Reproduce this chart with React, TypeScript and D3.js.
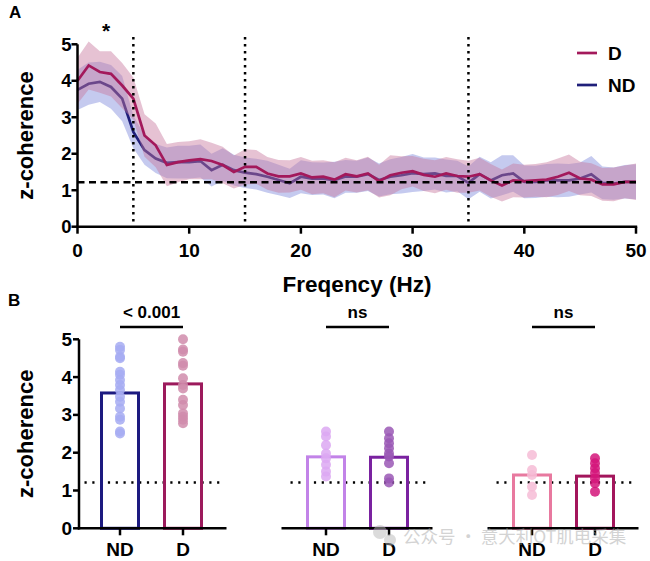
import React from "react";
import * as d3 from "d3";

// ---------- Panel A data ----------
const freqs: number[] = d3.range(0, 51);
const dMean: number[] = [
  4.0, 4.42, 4.24, 4.19, 3.87, 3.51, 2.5, 2.23, 1.69, 1.77,
  1.82, 1.85, 1.8, 1.69, 1.5, 1.64, 1.64, 1.46, 1.38, 1.38,
  1.46, 1.35, 1.37, 1.29, 1.44, 1.38, 1.46, 1.25, 1.41, 1.48,
  1.52, 1.42, 1.37, 1.46, 1.39, 1.37, 1.44, 1.27, 1.13, 1.27,
  1.25, 1.27, 1.29, 1.37, 1.48, 1.32, 1.29, 1.16, 1.16, 1.23, 1.23,
];
const dSpread: number[] = [
  0.63, 0.66, 0.57, 0.62, 0.62, 0.58, 0.58, 0.6, 0.58, 0.55,
  0.52, 0.55, 0.5, 0.5, 0.45, 0.48, 0.46, 0.45, 0.45, 0.44,
  0.45, 0.46, 0.45, 0.48, 0.45, 0.44, 0.46, 0.45, 0.55, 0.45,
  0.42, 0.44, 0.45, 0.45, 0.46, 0.44, 0.45, 0.45, 0.44, 0.46,
  0.45, 0.45, 0.48, 0.5, 0.5, 0.46, 0.45, 0.45, 0.46, 0.45, 0.5,
];
const ndMean: number[] = [
  3.75, 3.92, 3.97, 3.83, 3.51, 2.6, 2.1, 1.87, 1.75, 1.77,
  1.77, 1.8, 1.55, 1.7, 1.55, 1.48, 1.44, 1.37, 1.28, 1.19,
  1.37, 1.32, 1.32, 1.28, 1.38, 1.37, 1.44, 1.28, 1.37, 1.41,
  1.47, 1.44, 1.46, 1.39, 1.39, 1.2, 1.44, 1.27, 1.41, 1.46,
  1.23, 1.23, 1.27, 1.27, 1.27, 1.32, 1.44, 1.2, 1.18, 1.23, 1.23,
];
const ndSpread: number[] = [
  0.55, 0.58, 0.55, 0.6, 0.62, 0.45, 0.4, 0.4, 0.42, 0.45,
  0.45, 0.45, 0.45, 0.45, 0.42, 0.42, 0.42, 0.44, 0.42, 0.4,
  0.45, 0.45, 0.44, 0.5, 0.45, 0.44, 0.46, 0.45, 0.48, 0.5,
  0.52, 0.46, 0.44, 0.45, 0.42, 0.45, 0.48, 0.5, 0.55, 0.5,
  0.45, 0.44, 0.45, 0.46, 0.45, 0.44, 0.5, 0.45, 0.44, 0.46, 0.48,
];
const baselineA = 1.22;
const bandMarkers: number[] = [5, 15, 35];
const xTicksA: number[] = [0, 10, 20, 30, 40, 50];
const yTicks: number[] = [0, 1, 2, 3, 4, 5];

// ---------- Panel B data ----------
const groups: string[] = ["g1", "g2", "g3"];
const conds: string[] = ["ND", "D"];
const barMeans: number[][] = [
  [3.58, 3.82],
  [1.89, 1.88],
  [1.41, 1.38],
];
const sigLabels: string[] = ["< 0.001", "ns", "ns"];
const dotsB: number[][][] = [
  [
    [4.8, 4.72, 4.54, 4.5, 4.14, 4.06, 3.92, 3.79, 3.66, 3.48, 3.35, 3.17, 2.95, 2.87, 2.56, 2.51],
    [5.0, 4.73, 4.67, 4.37, 4.3, 3.97, 3.79, 3.7, 3.4, 3.26, 3.04, 2.95, 2.87, 2.78],
  ],
  [
    [2.56, 2.43, 2.2, 1.98, 1.85, 1.68, 1.5, 1.37],
    [2.56, 2.38, 2.25, 2.12, 1.98, 1.9, 1.72, 1.32, 1.21],
  ],
  [
    [1.94, 1.54, 1.41, 1.1, 0.88],
    [1.85, 1.72, 1.59, 1.46, 1.32, 1.19, 0.97],
  ],
];
const baselineB = 1.21;

const barColors = [
  ["#1c1a80", "#9c1a5c"],
  ["#c283e8", "#7a22a0"],
  ["#e8799f", "#a3165c"],
];
const dotColors = [
  ["#a6acf2", "#d08cab"],
  ["#dca8f2", "#9a58b5"],
  ["#f6bcd6", "#d4157a"],
];

const FONT = "'Liberation Sans', Arial, sans-serif";
const D_COL = "#a3195b";
const ND_COL = "#1f1f7a";
const TICK_FS = 18.5;

export default function App() {
  // Panel A scales
  const xA = d3.scaleLinear().domain([0, 50]).range([77.5, 636]);
  const yA = d3.scaleLinear().domain([0, 5]).range([226.7, 44.3]);

  const mkArea = (mean: number[], sp: number[]) =>
    d3
      .area<number>()
      .x((f) => xA(f))
      .y0((f, i) => yA(mean[i] - sp[i]))
      .y1((f, i) => yA(mean[i] + sp[i]))(freqs) || "";
  const mkLine = (mean: number[]) =>
    d3
      .line<number>()
      .x((f) => xA(f))
      .y((f, i) => yA(mean[i]))(freqs) || "";

  // Panel B scales
  const yB = d3.scaleLinear().domain([0, 5]).range([528.3, 339.3]);
  const gx = d3.scaleBand().domain(groups).range([48.5, 666.5]);
  const cx = d3.scalePoint().domain(conds).range([-31.5, 31.5]);
  const barW = 37;

  return (
    <svg
      width={650}
      height={561}
      style={{ position: "absolute", left: 0, top: 0, background: "#fff" }}
      fontFamily={FONT}
      fontWeight="bold"
    >
      <rect width={650} height={561} fill="#fff" />
      {/* ---------------- Panel A ---------------- */}
      <text x={9} y={18} fontSize={17}>A</text>
      <path d={mkArea(ndMean, ndSpread)} fill="#8c96e0" fillOpacity={0.5} />
      <path d={mkLine(ndMean)} fill="none" stroke={ND_COL} strokeWidth={2.7} />
      <path d={mkArea(dMean, dSpread)} fill="#c8789e" fillOpacity={0.45} />
      <path d={mkLine(dMean)} fill="none" stroke={D_COL} strokeWidth={2.7} />

      {bandMarkers.map((f) => (
        <line
          key={f}
          x1={xA(f)}
          x2={xA(f)}
          y1={37}
          y2={yA(0)}
          stroke="#000"
          strokeWidth={2.5}
          strokeDasharray="2.5,4.5"
        />
      ))}
      <line
        x1={xA(0)}
        x2={xA(50)}
        y1={yA(baselineA)}
        y2={yA(baselineA)}
        stroke="#000"
        strokeWidth={2.5}
        strokeDasharray="7,4.5"
      />

      {/* axes A */}
      <line x1={xA(0)} x2={xA(0)} y1={yA(5)} y2={yA(0) + 1.2} stroke="#000" strokeWidth={2.5} />
      <line x1={xA(0) - 1.2} x2={xA(50) + 1.2} y1={yA(0)} y2={yA(0)} stroke="#000" strokeWidth={2.5} />
      {yTicks.map((t) => (
        <g key={"ya" + t}>
          <line x1={xA(0) - 6} x2={xA(0)} y1={yA(t)} y2={yA(t)} stroke="#000" strokeWidth={2.5} />
          <text x={xA(0) - 6} y={yA(t) + 6.5} fontSize={TICK_FS} textAnchor="end">{t}</text>
        </g>
      ))}
      {xTicksA.map((t) => (
        <g key={"xa" + t}>
          <line x1={xA(t)} x2={xA(t)} y1={yA(0)} y2={yA(0) + 7} stroke="#000" strokeWidth={2.5} />
          <text x={xA(t)} y={257} fontSize={TICK_FS + 0.5} textAnchor="middle">{t}</text>
        </g>
      ))}
      <text x={357} y={292} fontSize={22.5} textAnchor="middle">Freqency (Hz)</text>
      <text
        transform={`translate(33,${(yA(0) + yA(5)) / 2}) rotate(-90)`}
        fontSize={22}
        textAnchor="middle"
      >
        z-coherence
      </text>
      <text x={xA(2.55)} y={38} fontSize={21} textAnchor="middle">*</text>

      {/* legend */}
      <line x1={577} x2={597} y1={53} y2={53} stroke={D_COL} strokeWidth={2.7} />
      <text x={608} y={60} fontSize={19}>D</text>
      <line x1={577} x2={597} y1={85} y2={85} stroke={ND_COL} strokeWidth={2.7} />
      <text x={608} y={92} fontSize={19}>ND</text>

      {/* ---------------- Panel B ---------------- */}
      <text x={8} y={306} fontSize={17}>B</text>
      <text
        transform={`translate(33,${(yB(0) + yB(5)) / 2}) rotate(-90)`}
        fontSize={22}
        textAnchor="middle"
      >
        z-coherence
      </text>
      <line x1={79} x2={79} y1={yB(5)} y2={yB(0) + 1.2} stroke="#000" strokeWidth={2.5} />
      {yTicks.map((t) => (
        <g key={"yb" + t}>
          <line x1={73} x2={79} y1={yB(t)} y2={yB(t)} stroke="#000" strokeWidth={2.5} />
          <text x={72} y={yB(t) + 6.5} fontSize={TICK_FS + 0.5} textAnchor="end">{t}</text>
        </g>
      ))}

      {groups.map((g, gi) => {
        const c = (gx(g) as number) + gx.bandwidth() / 2;
        const left = gi === 0 ? 79 - 1.2 : c - 76;
        return (
          <g key={g}>
            <line
              x1={c - 67}
              x2={c + 68}
              y1={yB(baselineB)}
              y2={yB(baselineB)}
              stroke="#000"
              strokeWidth={2.5}
              strokeDasharray="2.2,5.6"
            />
            {conds.map((cd, ci) => {
              const bx = c + (cx(cd) as number);
              return (
                <g key={cd}>
                  <rect
                    x={bx - barW / 2}
                    y={yB(barMeans[gi][ci])}
                    width={barW}
                    height={yB(0) - yB(barMeans[gi][ci])}
                    fill="none"
                    stroke={barColors[gi][ci]}
                    strokeWidth={3}
                  />
                  {dotsB[gi][ci].map((v, k) => (
                    <circle
                      key={k}
                      cx={bx}
                      cy={yB(v)}
                      r={5}
                      fill={dotColors[gi][ci]}
                      fillOpacity={0.85}
                    />
                  ))}
                  <line x1={bx} x2={bx} y1={yB(0)} y2={yB(0) + 7} stroke="#000" strokeWidth={2.5} />
                  <text x={bx} y={556} fontSize={19} textAnchor="middle">{cd}</text>
                </g>
              );
            })}
            <line x1={left} x2={c + 75} y1={yB(0)} y2={yB(0)} stroke="#000" strokeWidth={2.5} />
            <line
              x1={c + (cx("ND") as number)}
              x2={c + (cx("D") as number)}
              y1={327}
              y2={327}
              stroke="#000"
              strokeWidth={2.5}
            />
            <text x={c} y={318} fontSize={17} textAnchor="middle">{sigLabels[gi]}</text>
          </g>
        );
      })}

      {/* watermark */}
      <g opacity={0.5}>
        <circle cx={380} cy={532} r={7} fill="#b8b8b8" />
        <circle cx={390} cy={540} r={6} fill="#b8b8b8" />
        <text x={403} y={543} fontSize={17.5} fontWeight="normal" fill="#a8a8a8"
          fontFamily="'Noto Sans CJK SC', sans-serif">
          公众号 · 意大利OT肌电采集
        </text>
      </g>
    </svg>
  );
}
